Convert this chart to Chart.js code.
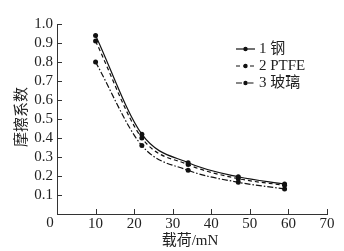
<!DOCTYPE html>
<html>
<head>
<meta charset="utf-8">
<script src="https://cdn.jsdelivr.net/npm/chart.js@4/dist/chart.umd.min.js"></script>
<style>
  body { margin: 0; background: #fff; }
  #wrap { width: 344px; height: 251px; }
</style>
</head>
<body>
<div id="wrap"><canvas id="frictionChart"></canvas></div>
<script>
// load (mN) and friction coefficient per material
const loads = [10, 22, 34, 47, 59];
const steel = [0.94, 0.42, 0.27, 0.196, 0.158];
const ptfe = [0.91, 0.40, 0.26, 0.186, 0.151];
const glass = [0.80, 0.36, 0.23, 0.167, 0.132];
const seriesNames = ['1 钢', '2 PTFE', '3 玻璃'];
const dashes = [[], [4, 3], [6, 2, 1.5, 2]];

const FONT = '"Liberation Serif", "Noto Sans CJK SC", serif';

function pts(vals) {
    return loads.map((x, i) => ({ x: x, y: vals[i] }));
}

function makeSet(label, vals, dash) {
    return {
        label: label,
        data: pts(vals),
        borderColor: '#111',
        backgroundColor: '#111',
        borderWidth: 1.2,
        borderDash: dash,
        pointRadius: 2.5,
        pointBorderWidth: 0,
        cubicInterpolationMode: 'monotone',
        fill: false
    };
}

// inner ticks, axis titles and legend
const extras = {
    id: 'extras',
    afterDraw(chart) {
        const ctx = chart.ctx;
        const xs = chart.scales.x, ys = chart.scales.y;
        const area = chart.chartArea;
        ctx.save();
        ctx.strokeStyle = '#333';
        ctx.lineWidth = 1;
        ctx.beginPath();
        for (let v = 10; v <= 70; v += 10) {
            const px = Math.round(xs.getPixelForValue(v)) + 0.5;
            ctx.moveTo(px, area.bottom);
            ctx.lineTo(px, area.bottom - 5);
        }
        for (let i = 1; i <= 10; i++) {
            const py = Math.round(ys.getPixelForValue(i / 10)) + 0.5;
            ctx.moveTo(area.left, py);
            ctx.lineTo(area.left + 5, py);
        }
        ctx.stroke();

        ctx.fillStyle = '#222';
        ctx.font = '15px ' + FONT;
        ctx.textAlign = 'center';
        ctx.textBaseline = 'middle';
        ctx.fillText('载荷/mN', 190, 241);
        ctx.fillText('0', 50, 223);
        ctx.save();
        ctx.translate(22, 117);
        ctx.rotate(-Math.PI / 2);
        ctx.fillText('摩擦系数', 0, 0);
        ctx.restore();

        // legend
        const rows = [49, 66, 83];
        chart.data.datasets.forEach((ds, i) => {
            ctx.setLineDash(dashes[i]);
            ctx.lineWidth = 1.2;
            ctx.strokeStyle = '#111';
            ctx.beginPath();
            ctx.moveTo(236, rows[i]);
            ctx.lineTo(255, rows[i]);
            ctx.stroke();
            ctx.setLineDash([]);
            ctx.beginPath();
            ctx.arc(245.5, rows[i], 2.2, 0, Math.PI * 2);
            ctx.fillStyle = '#111';
            ctx.fill();
            ctx.fillStyle = '#222';
            ctx.textAlign = 'left';
            ctx.fillText(seriesNames[i], 259, rows[i]);
        });
        ctx.restore();
    }
};

const ctxFriction = document.getElementById('frictionChart').getContext('2d');
const frictionChart = new Chart(ctxFriction, {
    type: 'line',
    data: {
        datasets: [
            makeSet(seriesNames[0], steel, dashes[0]),
            makeSet(seriesNames[1], ptfe, dashes[1]),
            makeSet(seriesNames[2], glass, dashes[2])
        ]
    },
    options: {
        responsive: true,
        maintainAspectRatio: false,
        animation: false,
        layout: { padding: { top: 24, right: 17, left: 0, bottom: 0 } },
        plugins: {
            legend: { display: false },
            tooltip: { enabled: false }
        },
        scales: {
            x: {
                type: 'linear',
                min: 0,
                max: 70,
                ticks: {
                    stepSize: 10,
                    autoSkip: false,
                    color: '#222',
                    font: { family: FONT, size: 15 },
                    padding: 1,
                    maxRotation: 0,
                    callback: v => (v === 0 ? '' : String(v))
                },
                grid: { display: false, drawTicks: false },
                border: { display: true, color: '#333', width: 1 },
                afterFit(scale) { scale.height = 37; }
            },
            y: {
                min: 0,
                max: 1,
                ticks: {
                    stepSize: 0.1,
                    autoSkip: false,
                    color: '#222',
                    font: { family: FONT, size: 15 },
                    padding: 4,
                    callback: v => (v === 0 ? '' : v.toFixed(1))
                },
                grid: { display: false, drawTicks: false },
                border: { display: true, color: '#333', width: 1 },
                afterFit(scale) { scale.width = 57; }
            }
        }
    },
    plugins: [extras]
});
</script>
</body>
</html>
